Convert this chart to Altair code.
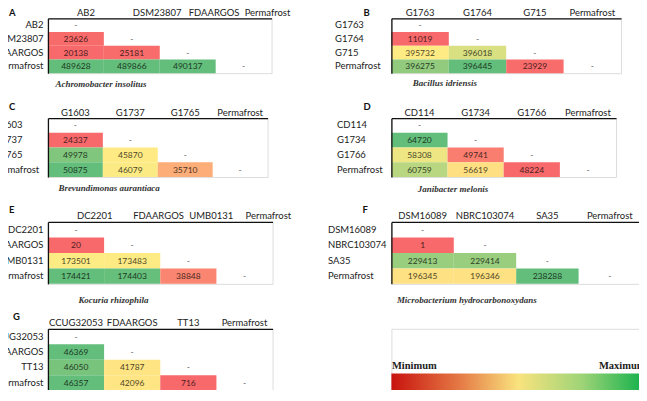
import altair as alt
import pandas as pd
import numpy as np

# ---------------- data ----------------
a_strains = ["AB2", "DSM23807", "FDAARGOS", "Permafrost"]
a_values = [23626, 20138, 25181, 489628, 489866, 490137]
a_species = "Achromobacter insolitus"

b_strains = ["G1763", "G1764", "G715", "Permafrost"]
b_values = [11019, 395732, 396018, 396275, 396445, 23929]
b_species = "Bacillus idriensis"

c_strains = ["G1603", "G1737", "G1765", "Permafrost"]
c_values = [24337, 49978, 45870, 50875, 46079, 35710]
c_species = "Brevundimonas aurantiaca"

d_strains = ["CD114", "G1734", "G1766", "Permafrost"]
d_values = [64720, 58308, 49741, 60759, 56619, 48224]
d_species = "Janibacter melonis"

e_strains = ["DC2201", "FDAARGOS", "UMB0131", "Permafrost"]
e_values = [20, 173501, 173483, 174421, 174403, 38848]
e_species = "Kocuria rhizophila"

f_strains = ["DSM16089", "NBRC103074", "SA35", "Permafrost"]
f_values = [1, 229413, 229414, 196345, 196346, 238288]
f_species = "Microbacterium hydrocarbonoxydans"

g_strains = ["CCUG32053", "FDAARGOS", "TT13", "Permafrost"]
g_values = [46369, 46050, 41787, 46357, 42096, 716]
g_species = "Paracoccus yeei"

legend_labels = ["Minimum", "Maximum"]

# ---------------- styles ----------------
RED, YELLOW, GREEN = "#F8696B", "#FFEB84", "#63BE7B"
FONT = "Lato"
SERIF = "Liberation Serif"


def tables(strains, values):
    cells, texts = [], []
    k = 0
    for i, r in enumerate(strains):
        for j, c in enumerate(strains):
            if j < i:
                v = values[k]
                k += 1
                cells.append({"row": r, "col": c, "value": v})
                texts.append({"row": r, "col": c, "label": str(v)})
            elif j == i:
                texts.append({"row": r, "col": c, "label": "-"})
    return pd.DataFrame(cells), pd.DataFrame(texts)


def panel(letter, species, strains, values, width, height, head_align,
          row_align, row_pad, title_dx, title_dy, species_dx, species_dy):
    cells, texts = tables(strains, values)
    lo, mid, hi = float(np.min(values)), float(np.median(values)), float(np.max(values))
    xs = alt.Scale(domain=strains, paddingInner=0, paddingOuter=0)
    ys = alt.Scale(domain=strains, paddingInner=0, paddingOuter=0)
    top_kw = dict(orient="top", title=None, ticks=False, domain=True,
                  domainColor="#111", domainWidth=1.3, labelAngle=0,
                  labelFont=FONT, labelFontSize=9.5, labelColor="#222",
                  labelPadding=1)
    if head_align == "left":
        top_kw.update(bandPosition=0, labelAlign="left", labelOffset=1)
    yaxis = alt.Axis(orient="left", title=None, ticks=False, domainColor="#111",
                     domainWidth=1.3, labelFont=FONT, labelFontSize=9.5,
                     labelColor="#222", labelAlign=row_align,
                     labelPadding=row_pad)
    rect = alt.Chart(cells).mark_rect().encode(
        x=alt.X("col:N", scale=xs, axis=alt.Axis(**top_kw)),
        y=alt.Y("row:N", scale=ys, axis=yaxis),
        fill=alt.Fill("value:Q",
                      scale=alt.Scale(domain=[lo, mid, hi],
                                      range=[RED, YELLOW, GREEN],
                                      interpolate="rgb"),
                      legend=None),
    )
    text = alt.Chart(texts).mark_text(font=FONT, fontSize=8.5, color="#000",
                                      opacity=0.72).encode(
        x=alt.X("col:N", scale=xs,
                axis=alt.Axis(orient="bottom", title=species, labels=False,
                              ticks=False, domain=False, titleFont=SERIF,
                              titleFontStyle="italic", titleFontWeight="bold",
                              titleFontSize=9, titleColor="#333",
                              titleAnchor="start", titleX=species_dx,
                              titleY=species_dy, titleAlign="left",
                              titleBaseline="middle")),
        y=alt.Y("row:N", scale=ys, axis=yaxis),
        text="label:N",
    )
    return alt.layer(rect, text).resolve_axis(x="independent").properties(
        width=width, height=height,
        title=alt.TitleParams(letter, anchor="start", frame="group", dx=title_dx,
                              dy=title_dy, font=FONT, fontSize=9.5,
                              fontWeight="bold", color="#111", offset=1),
    )


pa = panel("A", a_species, a_strains, a_values, 224, 55, "left", "right", 5, -39, 11, 7, 10)
pb = panel("B", b_species, b_strains, b_values, 230, 55, "center", "left", 57, -28, 11, 21, 9)
pc = panel("C", c_species, c_strains, c_values, 220, 59, "center", "left", 55, -39, 5, 10, 10)
pd_ = panel("D", d_species, d_strains, d_values, 225, 59, "center", "left", 55, -28, 5, 26, 11)
pe = panel("E", e_species, e_strains, e_values, 225, 62, "left", "right", 5, -39, 5, 30, 16)
pf = panel("F", f_species, f_strains, f_values, 250, 62, "center", "left", 64, -29, 5, 5, 16)
pg = panel("G", g_species, g_strains, g_values, 225, 62, "center", "right", 5, -35, 5, 34, 9)

legend_df = pd.DataFrame({"start": [0.0], "end": [1.0], "band": ["scale"]})
gradient = alt.LinearGradient(
    gradient="linear", x1=0, x2=1, y1=0, y2=0,
    stops=[alt.GradientStop(color="#C8130E", offset=0),
           alt.GradientStop(color="#E57A45", offset=0.27),
           alt.GradientStop(color="#F9E37E", offset=0.5),
           alt.GradientStop(color="#9FD477", offset=0.75),
           alt.GradientStop(color="#10B04B", offset=1)],
)
legend_expr = "datum.value == 0 ? '%s' : '%s'" % (legend_labels[0], legend_labels[1])
legend = alt.Chart(legend_df).mark_rect(fill=gradient).encode(
    x=alt.X("start:Q", scale=alt.Scale(domain=[0, 1]),
            axis=alt.Axis(orient="top", values=[0, 1], labelExpr=legend_expr,
                          labelFlush=True, ticks=False, domain=False, grid=False,
                          title=None, labelFont=SERIF, labelFontWeight="bold",
                          labelFontSize=10.5, labelColor="#222", offset=-45,
                          labelPadding=3)),
    x2="end:Q",
    y=alt.Y("band:N", scale=alt.Scale(paddingOuter=1, paddingInner=0, align=1),
            axis=None),
).properties(width=254, height=67)

chart = alt.concat(
    pa, pb, pc, pd_, pe, pf, pg, legend,
    columns=2, spacing={"row": 45, "column": 119}, bounds="flush", align="each",
).resolve_scale(fill="independent").properties(
    padding={"left": -20, "top": -2, "right": -7, "bottom": -16},
).configure_view(stroke=None).configure(background="white")

chart.save("out.html", embed_options={"renderer": "svg", "actions": False})
